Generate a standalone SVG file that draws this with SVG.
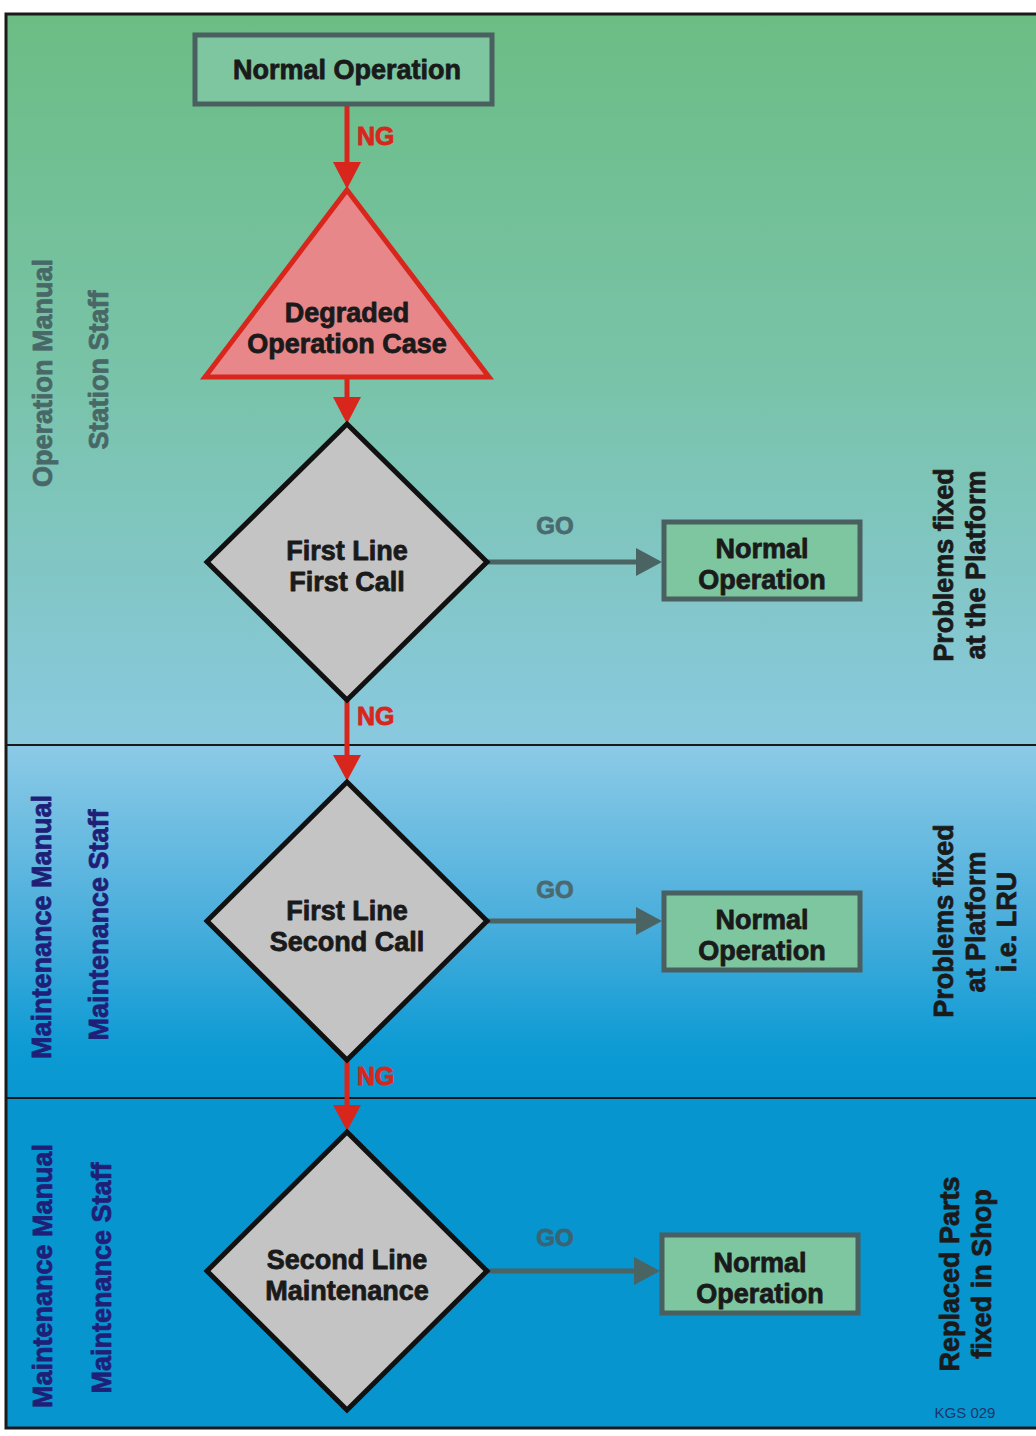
<svg xmlns="http://www.w3.org/2000/svg" width="1036" height="1436" viewBox="0 0 1036 1436">
<defs>
<linearGradient id="g1" x1="0" y1="14" x2="0" y2="745" gradientUnits="userSpaceOnUse">
<stop offset="0" stop-color="#6bbd84"/>
<stop offset="0.5" stop-color="#79c3a9"/>
<stop offset="1" stop-color="#89c9df"/>
</linearGradient>
<linearGradient id="g2" x1="0" y1="745" x2="0" y2="1098" gradientUnits="userSpaceOnUse">
<stop offset="0" stop-color="#8ccae6"/>
<stop offset="0.5" stop-color="#4aaedc"/>
<stop offset="0.85" stop-color="#0e9bd4"/>
<stop offset="1" stop-color="#0897d1"/>
</linearGradient>
<style>
text{font-family:"Liberation Sans",Arial,Helvetica,sans-serif;font-weight:bold;stroke-width:0.8;stroke-linejoin:round;}
.node{font-size:27px;fill:#1a1a1a;stroke:#1a1a1a;text-anchor:middle;}
.lane{font-size:27px;text-anchor:middle;}
.lane1{fill:#486868;stroke:#486868;}
.lane2{fill:#1f1f78;stroke:#1f1f78;}
.side{font-size:27px;fill:#1a1a1a;stroke:#1a1a1a;text-anchor:middle;}
.ng{font-size:25px;fill:#d9261c;stroke:#d9261c;}
.go{font-size:24px;fill:#4a6a70;stroke:#4a6a70;text-anchor:middle;}
.box{fill:#7dc6a0;stroke:#4a5f5f;stroke-width:5;}
.dia{fill:#c4c4c4;stroke:#111;stroke-width:5;stroke-linejoin:miter;}
.red{stroke:#d9261c;stroke-width:5;fill:none;}
.redh{fill:#d9261c;}
.gray{stroke:#4a6464;stroke-width:5;fill:none;}
.grayh{fill:#4a6464;}
</style>
</defs>

<g id="background">
<rect x="6" y="14" width="1036" height="731" fill="url(#g1)"/>
<rect x="6" y="745" width="1036" height="353" fill="url(#g2)"/>
<rect x="6" y="1098" width="1036" height="330" fill="#0795d0"/>
<line x1="6" y1="745" x2="1040" y2="745" stroke="#1a1a1a" stroke-width="2"/>
<line x1="6" y1="1098" x2="1040" y2="1098" stroke="#1a1a1a" stroke-width="2"/>
<rect x="6" y="14" width="1040" height="1414" fill="none" stroke="#1a1a1a" stroke-width="3"/>
</g>

<g id="lane-labels">
<text class="lane lane1" transform="translate(52,373) rotate(-90)">Operation Manual</text>
<text class="lane lane1" transform="translate(108,370) rotate(-90)">Station Staff</text>
<text class="lane lane2" transform="translate(51,927) rotate(-90)">Maintenance Manual</text>
<text class="lane lane2" transform="translate(108,925) rotate(-90)">Maintenance Staff</text>
<text class="lane lane2" transform="translate(52,1276) rotate(-90)">Maintenance Manual</text>
<text class="lane lane2" transform="translate(111,1278) rotate(-90)">Maintenance Staff</text>
</g>

<g id="side-labels">
<text class="side" transform="translate(953,565) rotate(-90)">Problems fixed</text>
<text class="side" transform="translate(985,565) rotate(-90)">at the Platform</text>
<text class="side" transform="translate(953,921) rotate(-90)">Problems fixed</text>
<text class="side" transform="translate(985,922) rotate(-90)">at Platform</text>
<text class="side" transform="translate(1016,922) rotate(-90)">i.e. LRU</text>
<text class="side" transform="translate(959,1274) rotate(-90)">Replaced Parts</text>
<text class="side" transform="translate(991,1274) rotate(-90)">fixed in Shop</text>
<text x="965" y="1418" font-size="15" fill="#1c3566" text-anchor="middle" style="font-weight:normal;stroke:none">KGS 029</text>
</g>

<g id="connectors">
<line class="red" x1="347" y1="106" x2="347" y2="165"/>
<polygon class="redh" points="333,162 361,162 347,189"/>
<text class="ng" x="357" y="145">NG</text>
<line class="red" x1="347" y1="377" x2="347" y2="400"/>
<polygon class="redh" points="333,397 361,397 347,424"/>
<line class="red" x1="347" y1="700" x2="347" y2="758"/>
<polygon class="redh" points="333,755 361,755 347,781"/>
<text class="ng" x="357" y="725">NG</text>
<line class="red" x1="347" y1="1060" x2="347" y2="1108"/>
<polygon class="redh" points="333,1105 361,1105 347,1131"/>
<text class="ng" x="357" y="1085">NG</text>
<line class="gray" x1="487" y1="562" x2="640" y2="562"/>
<polygon class="grayh" points="636,548 636,576 662,562"/>
<text class="go" x="555" y="534">GO</text>
<line class="gray" x1="487" y1="921" x2="640" y2="921"/>
<polygon class="grayh" points="636,907 636,935 662,921"/>
<text class="go" x="555" y="898">GO</text>
<line class="gray" x1="487" y1="1271" x2="638" y2="1271"/>
<polygon class="grayh" points="634,1257 634,1285 660,1271"/>
<text class="go" x="555" y="1246" style="fill:#3a6474;stroke:#3a6474">GO</text>
</g>

<g id="node-start">
<rect class="box" x="195" y="35" width="297" height="69"/>
<text class="node" x="347" y="79">Normal Operation</text>
</g>

<g id="node-degraded">
<polygon points="347,190 489,377 205,377" fill="#e8878a" stroke="#d9261c" stroke-width="5" stroke-linejoin="miter"/>
<text class="node" x="347" y="322">Degraded</text>
<text class="node" x="347" y="353">Operation Case</text>
</g>

<g id="node-first-call">
<polygon class="dia" points="347,424 487,562 347,700 207,562"/>
<text class="node" x="347" y="560">First Line</text>
<text class="node" x="347" y="591">First Call</text>
</g>

<g id="node-normal-1">
<rect class="box" x="664" y="522" width="196" height="77"/>
<text class="node" x="762" y="558">Normal</text>
<text class="node" x="762" y="589">Operation</text>
</g>

<g id="node-second-call">
<polygon class="dia" points="347,782 487,921 347,1060 207,921"/>
<text class="node" x="347" y="920">First Line</text>
<text class="node" x="347" y="951">Second Call</text>
</g>

<g id="node-normal-2">
<rect class="box" x="664" y="893" width="196" height="77"/>
<text class="node" x="762" y="929">Normal</text>
<text class="node" x="762" y="960">Operation</text>
</g>

<g id="node-second-line">
<polygon class="dia" points="347,1132 487,1271 347,1410 207,1271"/>
<text class="node" x="347" y="1269">Second Line</text>
<text class="node" x="347" y="1300">Maintenance</text>
</g>

<g id="node-normal-3">
<rect class="box" x="662" y="1235" width="196" height="78"/>
<text class="node" x="760" y="1272">Normal</text>
<text class="node" x="760" y="1303">Operation</text>
</g>
</svg>
